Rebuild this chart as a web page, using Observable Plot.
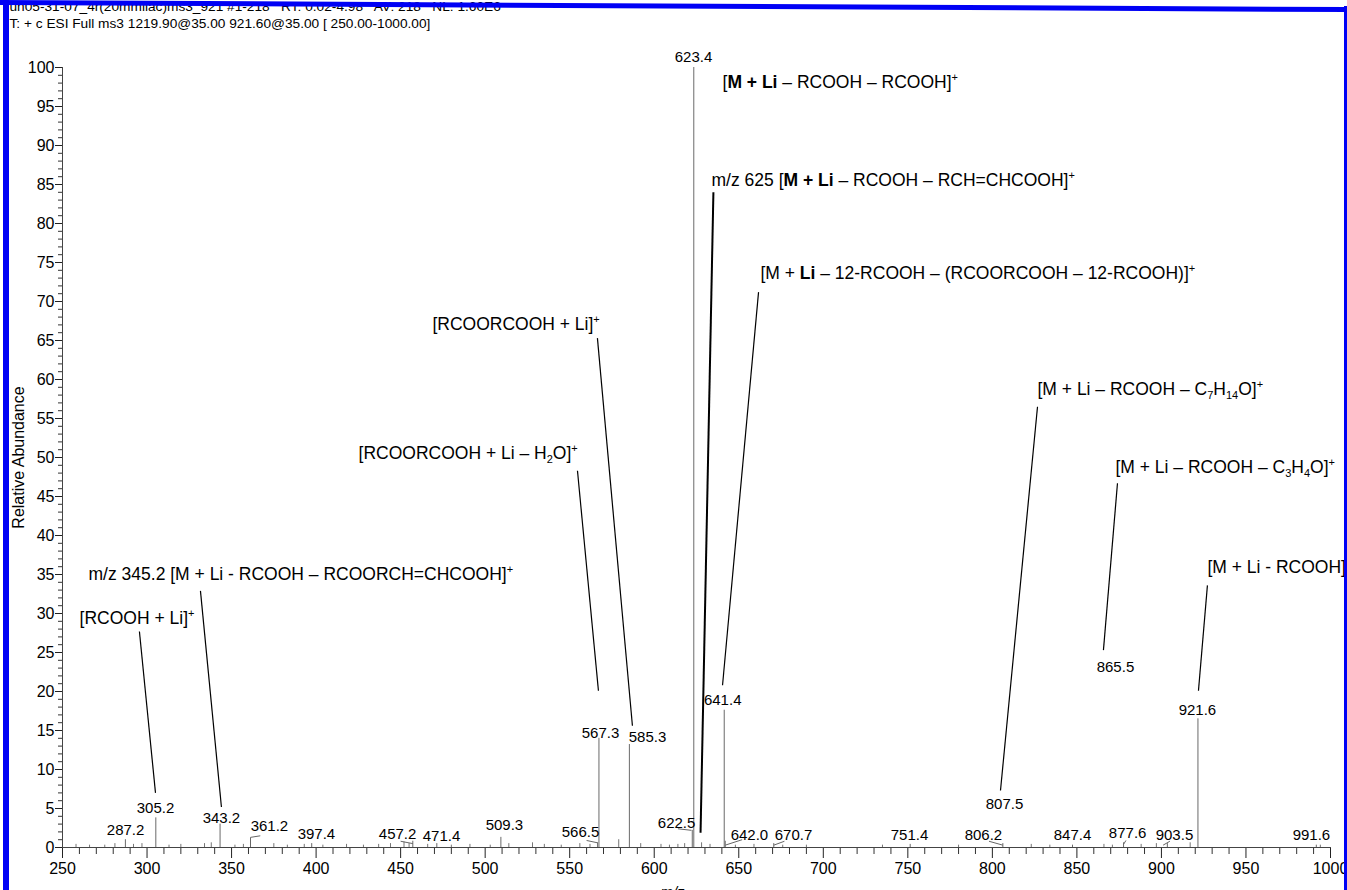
<!DOCTYPE html>
<html><head><meta charset="utf-8">
<script src="https://cdn.jsdelivr.net/npm/d3@7"></script>
<script src="https://cdn.jsdelivr.net/npm/@observablehq/plot@0.6"></script>
<style>
body{margin:0;background:#fff;}
#wrap{position:relative;width:1347px;height:890px;overflow:hidden;background:#fff;}
#wrap svg{display:block;}
.bar{position:absolute;background:#0000f5;}
</style></head>
<body><div id="wrap"></div>
<script>
// ---- data ----
const headerLines = [
  "un05-31-07_4r(20mmliac)ms3_921 #1-218   RT: 0.02-4.98   AV: 218   NL: 1.60E6",
  "T: + c ESI Full ms3 1219.90@35.00 921.60@35.00 [ 250.00-1000.00]"
];
const peakMz = [287.2, 305.2, 343.2, 361.2, 397.4, 457.2, 471.4, 509.3, 566.5, 567.3, 585.3, 622.5, 623.4, 641.4, 642.0, 670.7, 751.4, 806.2, 847.4, 877.6, 903.5, 921.6, 991.6];
const peakAbundance = [1.0, 3.8, 3.0, 1.0, 0.5, 0.8, 0.5, 1.3, 0.6, 14.0, 13.2, 2.2, 100, 17.6, 0.8, 0.5, 0.4, 0.5, 0.3, 0.6, 0.5, 16.5, 0.3];
const noiseMz = [258, 266, 275, 281, 292, 297, 313, 320, 334, 338, 352, 357, 375, 383, 393, 404, 418, 428, 437, 444, 452, 455, 466, 480, 491, 503, 514, 528, 535, 545, 556, 562, 579, 592, 604, 609, 614, 618, 628, 633, 648, 659, 676, 690, 735, 780, 823, 834, 866, 871, 888, 897, 917, 994];
const noiseAbundance = [0.4, 0.3, 0.3, 0.5, 0.4, 0.5, 0.3, 0.4, 0.5, 0.6, 0.3, 0.4, 0.5, 0.3, 0.4, 0.3, 0.4, 0.3, 0.4, 0.5, 0.7, 0.5, 0.4, 0.3, 0.4, 0.3, 0.5, 0.6, 0.4, 0.3, 0.5, 0.4, 1.0, 0.5, 0.4, 0.3, 0.4, 0.5, 0.6, 0.4, 0.3, 0.4, 0.3, 0.3, 0.3, 0.3, 0.4, 0.3, 0.4, 0.3, 0.4, 0.5, 0.6, 0.3];
// peak labels (text, anchor m/z, anchor abundance)
const labelText = ["287.2","305.2","343.2","361.2","397.4","457.2","471.4","509.3","566.5","567.3","585.3","622.5","623.4","641.4","642.0","670.7","751.4","806.2","807.5","847.4","877.6","903.5","865.5","921.6","991.6"];
const labelMz   = [287.3, 305.0, 344.0, 372.4, 400.2, 448.2, 474.2, 511.4, 556.4, 568.2, 596.0, 613.2, 623.2, 640.5, 656.3, 682.4, 751.0, 794.7, 807.2, 847.4, 880.0, 907.7, 872.8, 921.3, 988.7];
const labelAb   = [2.2, 5.1, 3.8, 2.7, 1.7, 1.7, 1.5, 2.8, 1.9, 14.7, 14.1, 3.1, 101.3, 18.9, 1.6, 1.6, 1.6, 1.6, 5.5, 1.6, 1.8, 1.6, 23.1, 17.6, 1.6];
// short connectors between small labels and their peaks
const tieMz1 = [361.2, 361.2, 450, 560, 614, 642.0, 670.7, 798, 877.6, 901];
const tieAb1 = [0.3, 1.3, 0.8, 0.9, 2.4, 0.3, 0.3, 0.8, 0.4, 0.3];
const tieMz2 = [361.2, 367, 457.2, 566.5, 622.0, 652, 677, 806.2, 879, 905];
const tieAb2 = [1.3, 1.5, 0.5, 0.6, 2.2, 1.0, 0.8, 0.3, 0.9, 0.8];
// annotations: text (**bold**, ^sup^, _sub_), anchor, leader line ends
const annText = [
  "[**M + Li** – RCOOH – RCOOH]^+^",
  "m/z 625 [**M + Li** – RCOOH – RCH=CHCOOH]^+^",
  "[M + **Li** – 12-RCOOH – (RCOORCOOH – 12-RCOOH)]^+^",
  "[RCOORCOOH + Li]^+^",
  "[RCOORCOOH + Li – H_2_O]^+^",
  "[M + Li – RCOOH – C_7_H_14_O]^+^",
  "[M + Li – RCOOH – C_3_H_4_O]^+^",
  "[M + Li - RCOOH]",
  "m/z 345.2 [M + Li - RCOOH – RCOORCH=CHCOOH]^+^",
  "[RCOOH + Li]^+^"
];
const annMz = [640.4, 633.9, 662.8, 468.8, 425.1, 826.7, 872.8, 927.2, 265.4, 260.1];
const annAb = [98.1, 85.5, 73.6, 67.1, 50.5, 58.7, 48.7, 35.9, 35.0, 29.4];
const leadMz1 = [null, 635.0, 661.7, 566.4, 554.6, 826.7, 874.0, 927.2, 331.6, 295.5];
const leadAb1 = [null, 84.0, 71.2, 65.3, 48.3, 56.5, 46.7, 33.6, 32.9, 27.7];
const leadMz2 = [null, 627.4, 640.4, 587.1, 567.0, 804.8, 865.7, 921.9, 344.0, 305.0];
const leadAb2 = [null, 1.9, 20.8, 15.6, 20.1, 7.3, 25.3, 20.1, 5.2, 7.0];
const majorX = d3.range(250, 1001, 50);
const minorX = d3.range(250, 1001, 10).filter(v => v % 50 !== 0);
const majorY = d3.range(0, 101, 5);
const minorY = d3.range(0, 101, 1).filter(v => v % 5 !== 0);

// ---- tables ----
const peaks = peakMz.map((mz, i) => ({mz, ab: peakAbundance[i]}));
const noise = noiseMz.map((mz, i) => ({mz, ab: noiseAbundance[i]}));
const labels = labelText.map((t, i) => ({t, mz: labelMz[i], ab: labelAb[i]}));
const ties = tieMz1.map((m, i) => ({x1: m, y1: tieAb1[i], x2: tieMz2[i], y2: tieAb2[i]}));
const anns = annText.map((t, i) => ({t, mz: annMz[i], ab: annAb[i], x1: leadMz1[i], y1: leadAb1[i], x2: leadMz2[i], y2: leadAb2[i]}));
const leaders = anns.filter(d => d.x1 != null);

const font = "'Liberation Sans', Arial, sans-serif";
const chart = Plot.plot({
  width: 1347, height: 890,
  marginLeft: 62, marginRight: 17, marginTop: 67, marginBottom: 43,
  style: {fontFamily: font, fontSize: "16px", background: "#fff", color: "#000", overflow: "visible"},
  x: {domain: [250, 1000]},
  y: {domain: [0, 100]},
  marks: [
    Plot.ruleX(noise, {x: "mz", y1: 0, y2: "ab", stroke: "#777", strokeWidth: 1}),
    Plot.ruleX(peaks, {x: "mz", y1: 0, y2: "ab", stroke: "#6a6a6a", strokeWidth: 1}),
    Plot.link(ties, {x1: "x1", y1: "y1", x2: "x2", y2: "y2", stroke: "#666", strokeWidth: 1}),
    Plot.axisX({ticks: minorX, tickSize: 7, text: null, stroke: "#333", label: null}),
    Plot.axisX({ticks: majorX, tickSize: 11, tickPadding: 4, fontSize: 16, label: null, stroke: "#222", tickFormat: d => String(d)}),
    Plot.axisY({ticks: minorY, tickSize: 4, text: null, stroke: "#333", label: null}),
    Plot.axisY({ticks: majorY, tickSize: 7, tickPadding: 1, fontSize: 16, label: "Relative Abundance", labelAnchor: "center", labelOffset: 50, labelArrow: "none", stroke: "#222"}),
    Plot.frame({anchor: "bottom", stroke: "#444"}),
    Plot.frame({anchor: "left", stroke: "#444"}),
    Plot.link(leaders, {x1: "x1", y1: "y1", x2: "x2", y2: "y2", stroke: "#000", strokeWidth: d => d.t.startsWith("m/z 625") ? 2 : 1.2}),
    Plot.text(labels, {x: "mz", y: "ab", text: "t", fontSize: 15, lineAnchor: "middle", fill: "#000"}),
    Plot.text(anns, {x: "mz", y: "ab", text: "t", textAnchor: "start", lineAnchor: "middle", fontSize: 17.5, fill: "#000", className: "ann"}),
    Plot.text([headerLines[0]], {frameAnchor: "top-left", dx: -53, dy: -61, text: d => d, textAnchor: "start", lineAnchor: "middle", fontSize: 13.7}),
    Plot.text([headerLines[1]], {frameAnchor: "top-left", dx: -53, dy: -44, text: d => d, textAnchor: "start", lineAnchor: "middle", fontSize: 13.7}),
    Plot.text(["m/z"], {frameAnchor: "bottom", dx: -24, dy: 45, text: d => d, fontSize: 15, fontStyle: "italic", lineAnchor: "middle"})
  ]
});

// rich text for annotations
d3.select(chart).selectAll("g.ann text").each(function() {
  const el = d3.select(this);
  const s = this.textContent;
  el.text(null);
  const parts = s.split(/(\*\*[^*]+\*\*|\^[^^]+\^|_[^_]+_)/).filter(p => p.length);
  let off = 0;
  for (const p of parts) {
    let txt = p, shift = 0, bold = false, small = false;
    if (p.startsWith("**")) { txt = p.slice(2, -2); bold = true; }
    else if (p.startsWith("^")) { txt = p.slice(1, -1); shift = -7; small = true; }
    else if (p.startsWith("_") && p.endsWith("_") && p.length > 2) { txt = p.slice(1, -1); shift = 4; small = true; }
    const ts = el.append("tspan").text(txt).attr("dy", shift - off);
    off = shift;
    if (bold) ts.attr("font-weight", "bold");
    if (small) ts.attr("font-size", 11);
  }
});

const wrap = document.getElementById("wrap");
wrap.appendChild(chart);
// blue scan border
const mk = (css) => { const d = document.createElement("div"); d.className = "bar"; d.style.cssText = css; wrap.appendChild(d); };
mk("left:0;top:0;width:1347px;height:5px;transform:skewY(0.3deg);transform-origin:0 0;");
mk("left:3px;top:0;width:6px;height:890px;");
mk("left:1344px;top:6px;width:3px;height:884px;");
</script>
</body></html>
